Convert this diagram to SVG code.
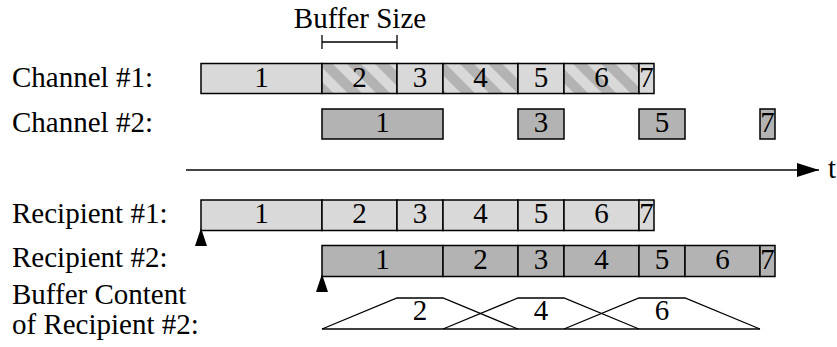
<svg xmlns="http://www.w3.org/2000/svg" width="837" height="347" viewBox="0 0 837 347">
<defs>
<pattern id="hatch" patternUnits="userSpaceOnUse" width="20" height="20" patternTransform="rotate(-45)">
<rect x="0" y="0" width="20" height="20" fill="#d9d9d9"/>
<rect x="0" y="0" width="10" height="20" fill="#b3b3b3"/>
</pattern>
<marker id="arr" viewBox="0 0 22 14" refX="22" refY="7" markerWidth="22" markerHeight="14" markerUnits="userSpaceOnUse" orient="auto">
<path d="M0,0 L22,7 L0,14 Z" fill="#000"/>
</marker>
</defs>
<style>
svg text.t{font-family:'Liberation Serif',serif !important;font-size:29px !important;fill:#000}
svg text.c{text-anchor:middle}
.l{fill:#d9d9d9;stroke:#000;stroke-width:1.5}
.d{fill:#b3b3b3;stroke:#000;stroke-width:1.5}
.h{fill:url(#hatch);stroke:#000;stroke-width:1.5}
.tr{fill:none;stroke:#000;stroke-width:1.3}
.ln{fill:none;stroke:#000;stroke-width:1.3}
</style>
<rect width="837" height="347" fill="#fff"/>

<g id="labels">
<text class="t" style="font-family:'Liberation Serif',serif" x="12" y="87">Channel #1:</text>
<text class="t" style="font-family:'Liberation Serif',serif" x="12" y="132">Channel #2:</text>
<text class="t" style="font-family:'Liberation Serif',serif" x="12" y="223">Recipient #1:</text>
<text class="t" style="font-family:'Liberation Serif',serif" x="12" y="267">Recipient #2:</text>
<text class="t" style="font-family:'Liberation Serif',serif" x="12" y="304">Buffer Content</text>
<text class="t" style="font-family:'Liberation Serif',serif" x="12" y="334">of Recipient #2:</text>
<text class="t c" style="font-family:'Liberation Serif',serif" x="360" y="28">Buffer Size</text>
<text class="t" style="font-family:'Liberation Serif',serif" x="828" y="178">t</text>
</g>

<g id="channel1">
<rect class="l" x="201" y="63.5" width="121" height="30"/><text class="t c" style="font-family:'Liberation Serif',serif" x="261.5" y="87">1</text>
<rect class="h" x="322" y="63.5" width="75" height="30"/><text class="t c" style="font-family:'Liberation Serif',serif" x="359.5" y="87">2</text>
<rect class="l" x="397" y="63.5" width="46" height="30"/><text class="t c" style="font-family:'Liberation Serif',serif" x="420" y="87">3</text>
<rect class="h" x="443" y="63.5" width="75" height="30"/><text class="t c" style="font-family:'Liberation Serif',serif" x="480.5" y="87">4</text>
<rect class="l" x="518" y="63.5" width="46" height="30"/><text class="t c" style="font-family:'Liberation Serif',serif" x="541" y="87">5</text>
<rect class="h" x="564" y="63.5" width="75" height="30"/><text class="t c" style="font-family:'Liberation Serif',serif" x="601.5" y="87">6</text>
<rect class="l" x="639" y="63.5" width="15" height="30"/><text class="t c" style="font-family:'Liberation Serif',serif" x="646.5" y="87">7</text>
</g>

<g id="channel2">
<rect class="d" x="322" y="109" width="121" height="30"/><text class="t c" style="font-family:'Liberation Serif',serif" x="382.5" y="132">1</text>
<rect class="d" x="518" y="109" width="46" height="30"/><text class="t c" style="font-family:'Liberation Serif',serif" x="541" y="132">3</text>
<rect class="d" x="639" y="109" width="46" height="30"/><text class="t c" style="font-family:'Liberation Serif',serif" x="662" y="132">5</text>
<rect class="d" x="760" y="109" width="15" height="30"/><text class="t c" style="font-family:'Liberation Serif',serif" x="767.5" y="132">7</text>
</g>

<g id="recipient1">
<rect class="l" x="201" y="200" width="121" height="30.5"/><text class="t c" style="font-family:'Liberation Serif',serif" x="261.5" y="223">1</text>
<rect class="l" x="322" y="200" width="75" height="30.5"/><text class="t c" style="font-family:'Liberation Serif',serif" x="359.5" y="223">2</text>
<rect class="l" x="397" y="200" width="46" height="30.5"/><text class="t c" style="font-family:'Liberation Serif',serif" x="420" y="223">3</text>
<rect class="l" x="443" y="200" width="75" height="30.5"/><text class="t c" style="font-family:'Liberation Serif',serif" x="480.5" y="223">4</text>
<rect class="l" x="518" y="200" width="46" height="30.5"/><text class="t c" style="font-family:'Liberation Serif',serif" x="541" y="223">5</text>
<rect class="l" x="564" y="200" width="75" height="30.5"/><text class="t c" style="font-family:'Liberation Serif',serif" x="601.5" y="223">6</text>
<rect class="l" x="639" y="200" width="15" height="30.5"/><text class="t c" style="font-family:'Liberation Serif',serif" x="646.5" y="223">7</text>
</g>

<g id="recipient2">
<rect class="d" x="322" y="245.5" width="121" height="31"/><text class="t c" style="font-family:'Liberation Serif',serif" x="382.5" y="269">1</text>
<rect class="d" x="443" y="245.5" width="75" height="31"/><text class="t c" style="font-family:'Liberation Serif',serif" x="480.5" y="269">2</text>
<rect class="d" x="518" y="245.5" width="46" height="31"/><text class="t c" style="font-family:'Liberation Serif',serif" x="541" y="269">3</text>
<rect class="d" x="564" y="245.5" width="75" height="31"/><text class="t c" style="font-family:'Liberation Serif',serif" x="601.5" y="269">4</text>
<rect class="d" x="639" y="245.5" width="46" height="31"/><text class="t c" style="font-family:'Liberation Serif',serif" x="662" y="269">5</text>
<rect class="d" x="685" y="245.5" width="75" height="31"/><text class="t c" style="font-family:'Liberation Serif',serif" x="722.5" y="269">6</text>
<rect class="d" x="760" y="245.5" width="15" height="31"/><text class="t c" style="font-family:'Liberation Serif',serif" x="767.5" y="269">7</text>
</g>

<g id="buffer">
<path class="tr" d="M322,329 L397,298 L443,298 L518,329"/>
<path class="tr" d="M443,329 L518,298 L564,298 L639,329"/>
<path class="tr" d="M564,329 L639,298 L685,298 L760,329"/>
<line class="ln" x1="322" y1="329" x2="760" y2="329"/>
<text class="t c" style="font-family:'Liberation Serif',serif" x="420" y="320">2</text>
<text class="t c" style="font-family:'Liberation Serif',serif" x="541" y="320">4</text>
<text class="t c" style="font-family:'Liberation Serif',serif" x="662" y="320">6</text>
</g>

<g id="connectors">
<line x1="186" y1="170" x2="819" y2="170" stroke="#444" stroke-width="2" marker-end="url(#arr)"/>
<path class="ln" d="M322,42 L397,42 M322,35 L322,49 M397,35 L397,49"/>
<polygon points="201,228 195,246 207,246" fill="#000"/>
<polygon points="322,274 316,292 328,292" fill="#000"/>
</g>
</svg>
